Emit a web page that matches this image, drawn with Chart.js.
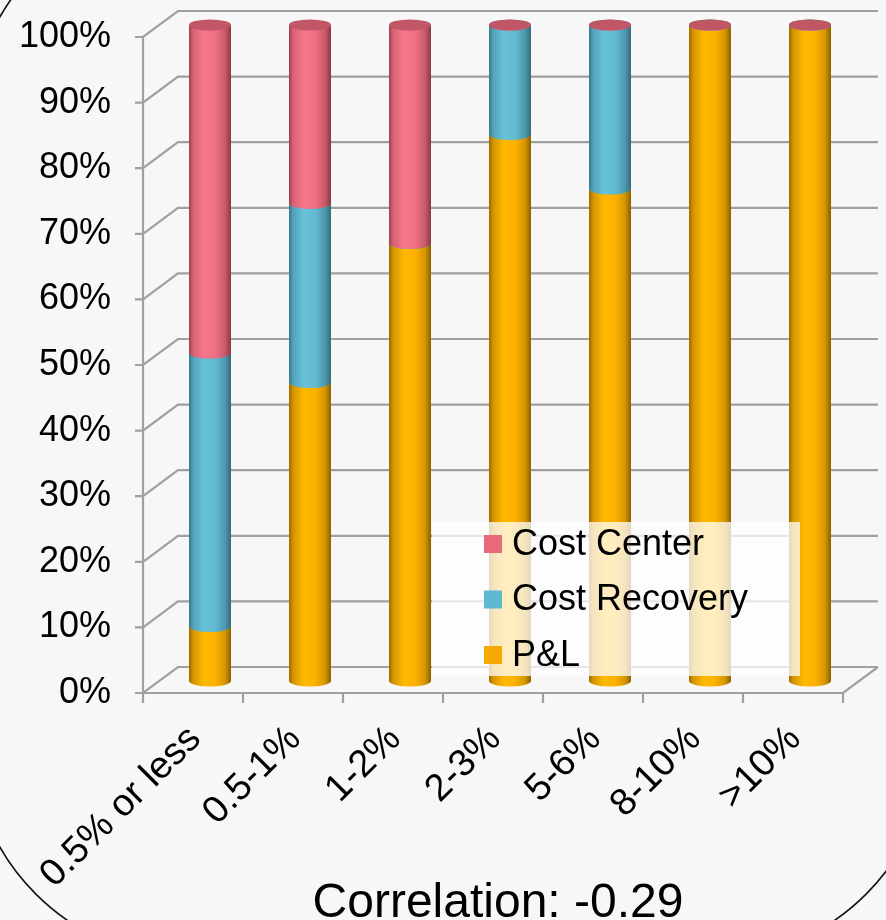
<!DOCTYPE html>
<html>
<head>
<meta charset="utf-8">
<script src="https://cdn.jsdelivr.net/npm/chart.js@4.4.1/dist/chart.umd.min.js"></script>
<style>
  html, body { margin: 0; padding: 0; background: #f7f7f7; }
  canvas { display: block; }
</style>
</head>
<body>
<canvas id="chart" width="886" height="920"></canvas>
<script>
// Share of each reporting model by band (percent of respondents)
const categories = ['0.5% or less', '0.5-1%', '1-2%', '2-3%', '5-6%', '8-10%', '>10%'];
const pnl          = [8.3, 45.5, 66.7, 83.3, 75, 100, 100];
const costRecovery = [41.7, 27.3, 0, 16.7, 25, 0, 0];
const costCenter   = [50, 27.2, 33.3, 0, 0, 0, 0];
const seriesNames  = ['P&L', 'Cost Recovery', 'Cost Center'];
const yTickStep    = 10;
const titleText    = 'Correlation: -0.29';

// Cylinder shading per series (same order as seriesNames)
const seriesLook = [
  { key: '#f5a800', cap: '#e8a500',
    stops: [[0, '#9c6a00'], [0.1, '#d39500'], [0.35, '#ffb800'], [0.62, '#fdb200'], [0.86, '#d49600'], [1, '#8a6000']] },
  { key: '#5fb8d0', cap: '#58aec6',
    stops: [[0, '#37788a'], [0.1, '#52a4ba'], [0.35, '#67c1d9'], [0.62, '#62bbd3'], [0.86, '#4d98ac'], [1, '#336a79']] },
  { key: '#e8697a', cap: '#c05666',
    stops: [[0, '#9c4050'], [0.1, '#d86274'], [0.35, '#f57789'], [0.62, '#f17184'], [0.86, '#c95a6a'], [1, '#8a3846']] }
];

const FONT = "'Liberation Sans', Arial, sans-serif";
const WALL = { x: 35, y: -26 };   // depth of the back wall
const SHIFT = { x: 17, y: -12 };  // cylinders sit half way back
const RY = 5.5;                   // vertical radius of the cylinder ends

function drawCylinder(ctx, cx, top, bottom, rx, look) {
  const g = ctx.createLinearGradient(cx - rx, 0, cx + rx, 0);
  look.stops.forEach(s => g.addColorStop(s[0], s[1]));
  ctx.beginPath();
  ctx.moveTo(cx - rx, top);
  ctx.lineTo(cx - rx, bottom);
  ctx.ellipse(cx, bottom, rx, RY, 0, Math.PI, 0, true);
  ctx.lineTo(cx + rx, top);
  ctx.closePath();
  ctx.fillStyle = g;
  ctx.fill();
  ctx.beginPath();
  ctx.ellipse(cx, top, rx, RY, 0, 0, Math.PI * 2);
  ctx.fillStyle = look.cap;
  ctx.fill();
}

const scene3d = {
  id: 'scene3d',
  beforeDraw(chart) {
    const ctx = chart.ctx;
    const xs = chart.scales.x, ys = chart.scales.y;
    const L = xs.left, R = xs.right, T = ys.top, B = ys.bottom;
    ctx.save();
    ctx.fillStyle = '#f7f7f7';
    ctx.fillRect(0, 0, chart.width, chart.height);

    // rounded frame around the slide area
    ctx.beginPath();
    ctx.roundRect(-30, -96, 962, 1056, 225);
    ctx.lineWidth = 1.6;
    ctx.strokeStyle = '#111';
    ctx.stroke();

    // back wall gridlines, side wall diagonals and y tick marks
    ctx.strokeStyle = '#a0a0a0';
    ctx.lineWidth = 2.2;
    ys.ticks.forEach(t => {
      const py = ys.getPixelForValue(t.value);
      ctx.beginPath();
      ctx.moveTo(L - 8, py);
      ctx.lineTo(L, py);
      ctx.lineTo(L + WALL.x, py + WALL.y);
      ctx.lineTo(R + WALL.x, py + WALL.y);
      ctx.stroke();
    });
    // front axes and floor edge
    ctx.beginPath();
    ctx.moveTo(L, T);
    ctx.lineTo(L, B);
    ctx.lineTo(R, B);
    ctx.lineTo(R + WALL.x, B + WALL.y);
    ctx.stroke();
    // category separators on the x axis
    for (let i = 0; i <= categories.length; i++) {
      const px = xs.getPixelForValue(i - 0.5);
      ctx.beginPath();
      ctx.moveTo(px, B);
      ctx.lineTo(px, B + 10);
      ctx.stroke();
    }
    ctx.restore();
  },
  afterDatasetsDraw(chart) {
    const ctx = chart.ctx;
    ctx.save();
    for (let i = 0; i < chart.data.labels.length; i++) {
      chart.data.datasets.forEach((ds, di) => {
        const el = chart.getDatasetMeta(di).data[i];
        const p = el.getProps(['x', 'y', 'base', 'width'], true);
        drawCylinder(ctx, p.x + SHIFT.x, p.y + SHIFT.y, p.base + SHIFT.y, p.width / 2, seriesLook[di]);
      });
    }
    ctx.restore();
  },
  afterDraw(chart) {
    const ctx = chart.ctx;
    const xs = chart.scales.x;
    ctx.save();
    // legend box, drawn over the cylinders
    const lx = 432, ly = 522, lw = 368, lh = 154;
    ctx.fillStyle = 'rgba(255,255,255,0.75)';
    ctx.fillRect(lx, ly, lw, lh);
    ctx.font = '36px ' + FONT;
    ctx.textBaseline = 'middle';
    ctx.textAlign = 'left';
    const order = chart.data.datasets.map((d, i) => i).reverse();
    order.forEach((di, row) => {
      const cy = ly + 22 + row * 55.5;
      ctx.fillStyle = seriesLook[di].key;
      ctx.fillRect(lx + 52, cy - 9, 18, 18);
      ctx.fillStyle = '#000';
      ctx.fillText(chart.data.datasets[di].label, lx + 80, cy + 1);
    });
    // bottom caption
    ctx.font = '48px ' + FONT;
    ctx.textAlign = 'center';
    ctx.textBaseline = 'alphabetic';
    ctx.fillStyle = '#000';
    ctx.fillText(titleText, (xs.left + xs.right) / 2 + 5, 917);
    ctx.restore();
  }
};

const values = [pnl, costRecovery, costCenter];
new Chart(document.getElementById('chart'), {
  type: 'bar',
  data: {
    labels: categories,
    datasets: seriesNames.map((name, i) => ({
      label: name,
      data: values[i],
      backgroundColor: 'rgba(0,0,0,0)',
      borderWidth: 0,
      barPercentage: 0.42,
      categoryPercentage: 1
    }))
  },
  options: {
    responsive: false,
    animation: false,
    events: [],
    layout: { padding: { left: 0, right: 43, top: 37, bottom: 0 } },
    plugins: {
      legend: { display: false },
      title: { display: false },
      tooltip: { enabled: false }
    },
    scales: {
      x: {
        stacked: true,
        grid: { display: false },
        border: { display: false },
        ticks: {
          autoSkip: false,
          maxRotation: 45,
          minRotation: 45,
          padding: 16,
          labelOffset: 2,
          color: '#000',
          font: { family: FONT, size: 38 }
        },
        afterFit(scale) {
          scale.height = 227;
          scale.paddingLeft = 0;
          scale.paddingRight = 0;
        }
      },
      y: {
        stacked: true,
        min: 0,
        max: 100,
        grid: { display: false },
        border: { display: false },
        ticks: {
          stepSize: yTickStep,
          padding: 24,
          color: '#000',
          font: { family: FONT, size: 36 },
          callback: v => v + '%'
        },
        afterFit(scale) {
          scale.width = 143;
          scale.paddingTop = 0;
          scale.paddingBottom = 0;
        }
      }
    }
  },
  plugins: [scene3d]
});
</script>
</body>
</html>
